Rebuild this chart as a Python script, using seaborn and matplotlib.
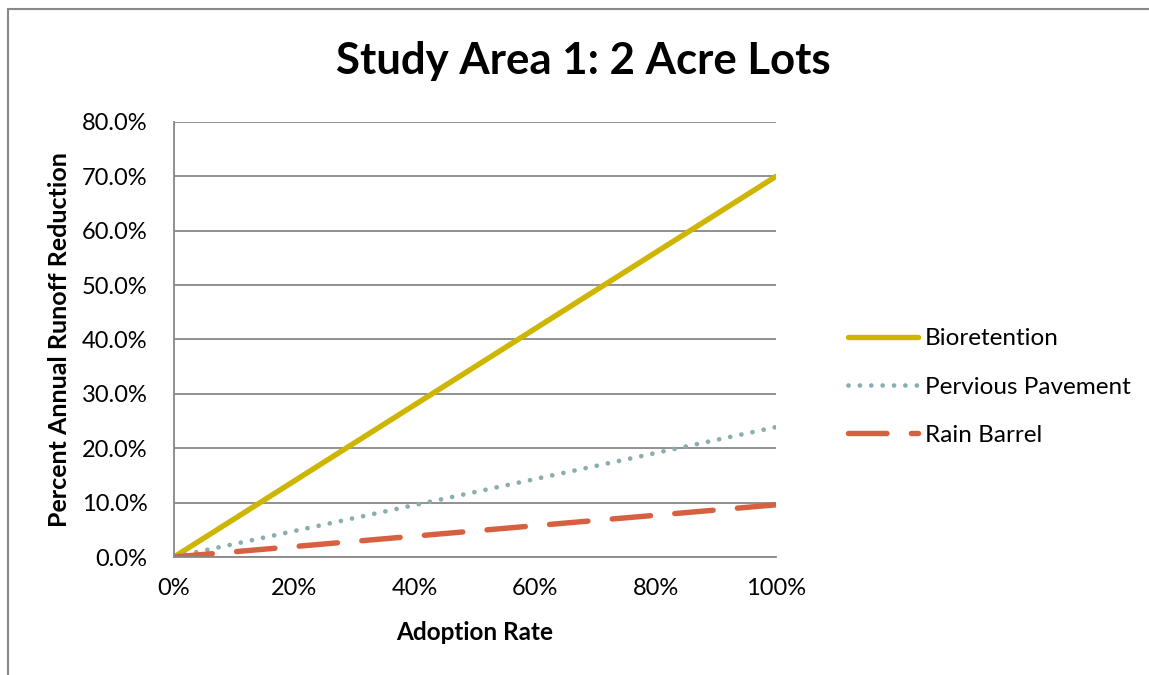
import matplotlib
matplotlib.use("Agg")
import matplotlib.pyplot as plt
import seaborn as sns
import pandas as pd
from matplotlib.lines import Line2D
from matplotlib.ticker import FuncFormatter, MultipleLocator

# Data
adoption = [0.0, 1.0]
bioretention = [0.0, 0.70]
pervious_pavement = [0.0, 0.239]
rain_barrel = [0.0, 0.096]
series_names = ["Bioretention", "Pervious Pavement", "Rain Barrel"]

sns.set_theme(style="white")
plt.rcParams['font.family'] = ['Lato', 'DejaVu Sans']

W, H = 1149, 675
fig = plt.figure(figsize=(W/100, H/100), dpi=100)
ax = fig.add_axes([174/W, 1-557/H, (776-174)/W, (557-122)/H])

styles = {
    "Bioretention": dict(color="#CDB500", linewidth=3.9, linestyle="-", solid_capstyle="round"),
    "Pervious Pavement": dict(color="#8AAEAD", linewidth=3.4, linestyle=(0, (0.01, 2.4)), dash_capstyle="round"),
    "Rain Barrel": dict(color="#D6603F", linewidth=3.9, linestyle=(0, (7.1, 4.5)), dash_capstyle="round"),
}
values = [bioretention, pervious_pavement, rain_barrel]
for name, vals in zip(series_names, values):
    df = pd.DataFrame({"x": adoption, "y": vals})
    sns.lineplot(data=df, x="x", y="y", ax=ax, label=name, **styles[name])

ax.set_xlim(0, 1)
ax.set_ylim(0, 0.8)
ax.xaxis.set_major_locator(MultipleLocator(0.2))
ax.yaxis.set_major_locator(MultipleLocator(0.1))
ax.xaxis.set_major_formatter(FuncFormatter(lambda v, p: f"{v*100:.0f}%"))
ax.yaxis.set_major_formatter(FuncFormatter(lambda v, p: f"{v*100:.1f}%"))

ax.grid(axis="y", color="#888888", linewidth=1.3)
ax.grid(axis="x", visible=False)
ax.set_axisbelow(True)
for s in ["top", "right"]:
    ax.spines[s].set_visible(False)
for s in ["left", "bottom"]:
    ax.spines[s].set_color("#888888")
    ax.spines[s].set_linewidth(1.3)
ax.tick_params(axis="y", which="major", left=False, labelsize=17, pad=13, labelcolor="black")
ax.tick_params(axis="x", which="major", bottom=False, labelsize=17, pad=9, labelcolor="black")

ax.set_xlabel("Adoption Rate", fontsize=17.5, fontweight="bold", color="black")
ax.set_ylabel("Percent Annual Runoff Reduction", fontsize=18, fontweight="bold", color="black")
ax.xaxis.set_label_coords(0.5, (557-633)/435)
ax.xaxis.label.set_va("center")
ax.yaxis.set_label_coords((60-174)/602, 0.5)
ax.yaxis.label.set_va("center")

fig.text(583/W, 1-61/H, "Study Area 1: 2 Acre Lots", fontsize=31.5, fontweight="bold",
         ha="center", va="center", color="black")

leg = ax.legend(loc="center left", bbox_to_anchor=(848/W, 1-387/H), bbox_transform=fig.transFigure,
                frameon=False, fontsize=17.5, borderpad=0, borderaxespad=0,
                handlelength=2.87, labelspacing=1.13, handletextpad=0.3)
for t in leg.get_texts():
    t.set_color("black")

# chart border (left & top visible)
fig.add_artist(Line2D([8/W, 8/W], [0, 1-9/H], color="#888888", linewidth=1.5,
                      transform=fig.transFigure))
fig.add_artist(Line2D([8/W, 1], [1-9/H, 1-9/H], color="#888888", linewidth=1.5,
                      transform=fig.transFigure))

fig.savefig("out.png", dpi=100)
